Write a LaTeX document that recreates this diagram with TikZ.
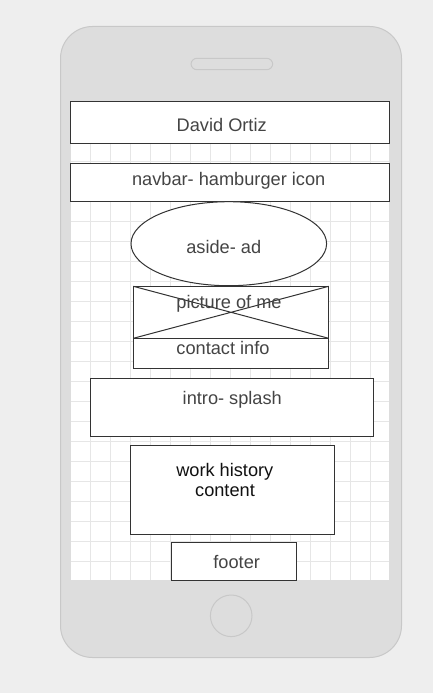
\documentclass[tikz,border=0pt]{standalone}
\usepackage{fontspec}
\setmainfont{Liberation Sans}
\usetikzlibrary{shapes.geometric}
\definecolor{bgc}{HTML}{EEEEEE}
\definecolor{phonefill}{HTML}{DDDDDD}
\definecolor{phoneline}{HTML}{C8C8C8}
\definecolor{gridc}{HTML}{E6E6E6}
\definecolor{boxline}{HTML}{333333}
\definecolor{txt}{HTML}{444444}
\definecolor{txtdark}{HTML}{111111}
\tikzset{
  box/.style={draw=boxline, fill=white, line width=1pt, inner sep=0pt, outer sep=0pt},
  lbl/.style={text=txt, font=\fontsize{18.2}{21}\selectfont, inner sep=0pt, anchor=base},
  lbldark/.style={lbl, text=txtdark},
}
\begin{document}
\begin{tikzpicture}[x=1pt,y=-1pt]
\useasboundingbox (0,0) rectangle (433,693);
\fill[bgc] (0,0) rectangle (433,693);
% phone body
\draw[phoneline, fill=phonefill, line width=1pt, rounded corners=32pt] (60.5,26.5) rectangle (401.5,657.5);
\draw[phoneline, fill=phonefill, line width=1pt, rounded corners=6pt] (191,58.3) rectangle (272.7,69.7);
\node[circle, draw=phoneline, fill=phonefill, line width=1pt, minimum size=41.6pt, inner sep=0pt] (home) at (231.2,615.8) {};
% screen
\fill[white] (70.5,101.5) rectangle (389.5,580.5);
\begin{scope}
\clip (70.5,101.5) rectangle (389.5,580.5);
\foreach \gx in {90.7,110.7,...,390} \draw[gridc, line width=1pt] (\gx,101.5) -- (\gx,580.5);
\foreach \gy in {121.7,141.7,...,580} \draw[gridc, line width=1pt] (70.5,\gy) -- (389.5,\gy);
\end{scope}
\draw[gridc!80!black!20!gridc, line width=0.6pt] (70.5,101.5) rectangle (389.5,580.5);
% boxes
\node[box, minimum width=319pt, minimum height=42pt] (title) at (230,122.4) {};
\node[lbl] (titlet) at (221.7,131.7) {David Ortiz};
\node[box, minimum width=319pt, minimum height=37.5pt] (nav) at (230,182.4) {};
\node[lbl] (navt) at (228.7,185.7) {navbar- hamburger icon};
\node[ellipse, box, minimum width=195.6pt, minimum height=84pt] (aside) at (228.8,243.7) {};
\node[lbl] (asidet) at (223.8,253.3) {aside- ad};
\node[box, minimum width=195.4pt, minimum height=52pt] (pic) at (231,312.3) {};
\draw[boxline, line width=1pt] (pic.north west) -- (pic.south east) (pic.south west) -- (pic.north east);
\node[lbl] (pict) at (229,308.3) {picture of me};
\node[box, minimum width=195.4pt, minimum height=30pt] (contact) at (231,353.3) {};
\node[lbl] (contactt) at (223,354) {contact info};
\node[box, minimum width=283.4pt, minimum height=58pt] (intro) at (232,407.3) {};
\node[lbl] (introt) at (232.3,404) {intro- splash};
\node[box, minimum width=204pt, minimum height=89pt] (work) at (232.3,489.8) {};
\node[lbldark] (workt1) at (224.8,476) {work history};
\node[lbldark] (workt2) at (225,496.7) {content};
\node[box, minimum width=125.4pt, minimum height=38pt] (footer) at (234,561.3) {};
\node[lbl] (footert) at (236.7,568.3) {footer};
\end{tikzpicture}
\end{document}
